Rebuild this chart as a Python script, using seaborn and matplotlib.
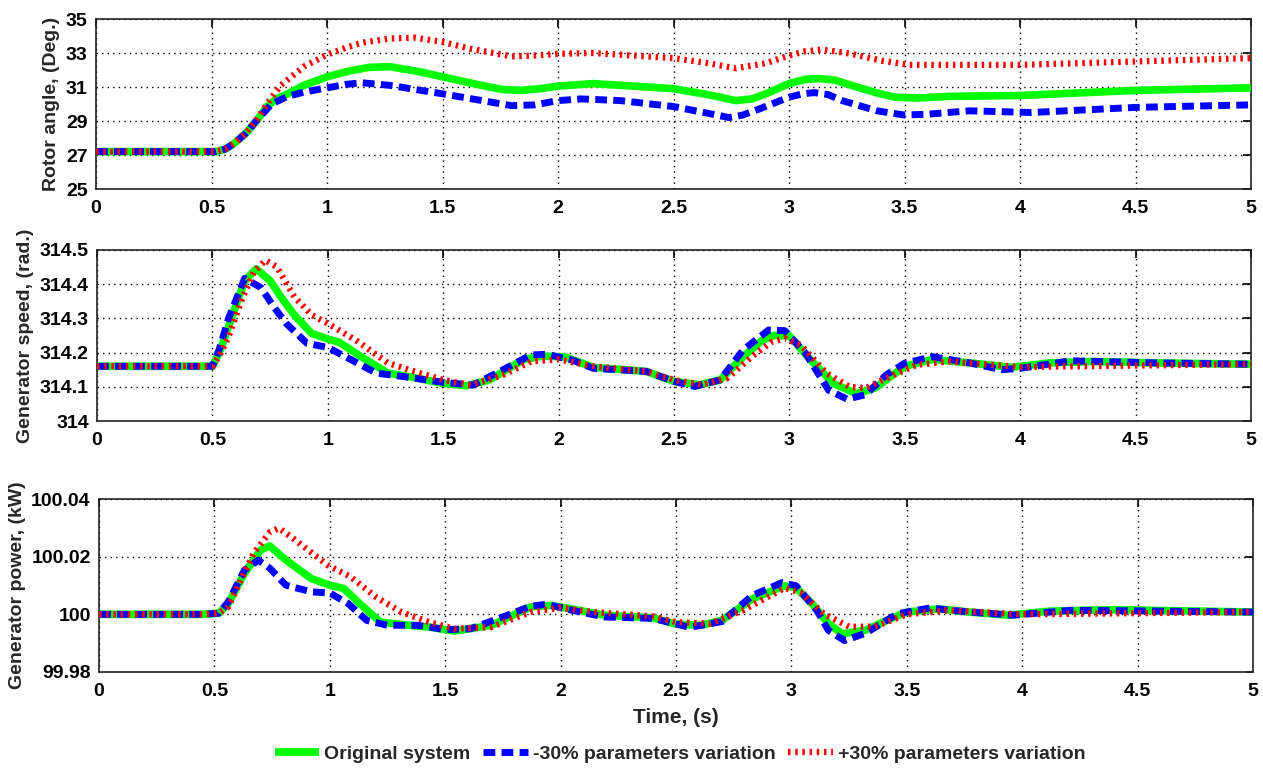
import numpy as np
import pandas as pd
import matplotlib
matplotlib.use("Agg")
import matplotlib.pyplot as plt
from matplotlib import font_manager
from matplotlib.ticker import FuncFormatter
import seaborn as sns

# ---------------- data ----------------
series_names = ["Original system", "-30% parameters variation", "+30% parameters variation"]

# Rotor angle (Deg.)
angle_t_orig = [0, 0.52, 0.56, 0.6, 0.65, 0.7, 0.74, 0.78, 0.83, 0.9, 1.0, 1.1, 1.18, 1.27, 1.4, 1.5, 1.65, 1.76, 1.84, 1.92, 2.0, 2.15, 2.27, 2.5, 2.65, 2.77, 2.84, 2.9, 3.0, 3.07, 3.13, 3.2, 3.27, 3.38, 3.46, 3.55, 3.7, 4.0, 4.5, 5.0]
angle_v_orig = [27.2, 27.2, 27.35, 27.7, 28.3, 29.1, 29.85, 30.3, 30.6, 31.1, 31.6, 31.95, 32.15, 32.2, 31.9, 31.6, 31.15, 30.85, 30.8, 30.9, 31.05, 31.2, 31.1, 30.9, 30.55, 30.2, 30.3, 30.6, 31.2, 31.45, 31.5, 31.4, 31.1, 30.65, 30.4, 30.35, 30.45, 30.5, 30.8, 30.95]
angle_t_minus = [0, 0.52, 0.56, 0.6, 0.65, 0.7, 0.76, 0.83, 0.9, 1.0, 1.08, 1.15, 1.27, 1.5, 1.65, 1.8, 1.9, 2.0, 2.1, 2.27, 2.5, 2.65, 2.74, 2.8, 2.87, 3.0, 3.06, 3.11, 3.17, 3.23, 3.38, 3.5, 3.6, 3.78, 4.05, 4.5, 5.0]
angle_v_minus = [27.2, 27.2, 27.35, 27.7, 28.3, 29.1, 30.0, 30.45, 30.7, 30.95, 31.15, 31.25, 31.1, 30.6, 30.25, 29.9, 29.95, 30.2, 30.3, 30.2, 29.85, 29.45, 29.2, 29.35, 29.7, 30.4, 30.6, 30.67, 30.55, 30.2, 29.6, 29.35, 29.4, 29.6, 29.5, 29.8, 29.95]
angle_t_plus = [0, 0.52, 0.56, 0.6, 0.65, 0.7, 0.74, 0.8, 0.9, 1.0, 1.08, 1.15, 1.27, 1.38, 1.5, 1.62, 1.8, 1.9, 2.0, 2.15, 2.27, 2.5, 2.65, 2.77, 2.9, 3.0, 3.07, 3.14, 3.2, 3.27, 3.4, 3.52, 4.0, 4.5, 5.0]
angle_v_plus = [27.2, 27.2, 27.35, 27.7, 28.3, 29.15, 30.0, 31.1, 32.2, 32.9, 33.3, 33.6, 33.85, 33.9, 33.65, 33.25, 32.8, 32.85, 32.95, 33.0, 32.9, 32.7, 32.4, 32.1, 32.4, 32.85, 33.1, 33.2, 33.1, 32.95, 32.55, 32.3, 32.3, 32.5, 32.7]

# Generator speed (rad.)
speed_t_orig = [0, 0.5, 0.53, 0.57, 0.64, 0.69, 0.75, 0.8, 0.855, 0.93, 1.0, 1.05, 1.14, 1.26, 1.35, 1.5, 1.6, 1.7, 1.85, 1.93, 2.03, 2.15, 2.38, 2.5, 2.61, 2.7, 2.8, 2.88, 2.93, 3.0, 3.09, 3.19, 3.29, 3.37, 3.5, 3.62, 3.78, 3.96, 4.13, 4.31, 4.58, 5.0]
speed_v_orig = [314.16, 314.16, 314.2, 314.276, 314.41, 314.445, 314.41, 314.36, 314.31, 314.256, 314.24, 314.23, 314.19, 314.14, 314.13, 314.11, 314.103, 314.12, 314.18, 314.19, 314.187, 314.157, 314.145, 314.116, 314.106, 314.12, 314.188, 314.235, 314.25, 314.249, 314.18, 314.11, 314.08, 314.096, 314.16, 314.18, 314.17, 314.157, 314.17, 314.174, 314.17, 314.166]
speed_t_minus = [0, 0.5, 0.53, 0.57, 0.64, 0.71, 0.77, 0.82, 0.91, 1.0, 1.085, 1.21, 1.35, 1.5, 1.63, 1.76, 1.88, 1.95, 2.06, 2.15, 2.38, 2.5, 2.59, 2.7, 2.8, 2.91, 2.98, 3.07, 3.17, 3.25, 3.33, 3.42, 3.5, 3.62, 3.78, 3.92, 4.0, 4.22, 4.58, 5.0]
speed_v_minus = [314.16, 314.16, 314.21, 314.3, 314.417, 314.39, 314.33, 314.285, 314.227, 314.215, 314.185, 314.14, 314.128, 314.113, 314.105, 314.15, 314.193, 314.195, 314.178, 314.154, 314.145, 314.116, 314.101, 314.12, 314.208, 314.266, 314.264, 314.198, 314.09, 314.064, 314.077, 314.135, 314.169, 314.188, 314.17, 314.15, 314.154, 314.176, 314.17, 314.166]
speed_t_plus = [0, 0.5, 0.53, 0.57, 0.63, 0.68, 0.73, 0.78, 0.855, 0.93, 1.0, 1.12, 1.26, 1.35, 1.5, 1.62, 1.76, 1.88, 2.0, 2.15, 2.38, 2.5, 2.62, 2.73, 2.84, 2.92, 2.98, 3.05, 3.16, 3.26, 3.33, 3.42, 3.55, 3.69, 4.0, 5.0]
speed_v_plus = [314.16, 314.16, 314.19, 314.247, 314.36, 314.436, 314.47, 314.45, 314.363, 314.31, 314.285, 314.237, 314.17, 314.15, 314.12, 314.105, 314.135, 314.174, 314.18, 314.16, 314.145, 314.12, 314.106, 314.125, 314.19, 314.23, 314.242, 314.222, 314.14, 314.1, 314.096, 314.125, 314.164, 314.174, 314.158, 314.166]

# Generator power (kW)
power_t_orig = [0, 0.45, 0.52, 0.56, 0.63, 0.70, 0.74, 0.81, 0.92, 1.0, 1.06, 1.13, 1.22, 1.34, 1.43, 1.54, 1.7, 1.87, 1.96, 2.08, 2.19, 2.4, 2.5, 2.61, 2.7, 2.83, 2.97, 3.02, 3.09, 3.16, 3.22, 3.32, 3.43, 3.5, 3.64, 3.77, 3.94, 4.12, 4.39, 5.0]
power_v_orig = [100.0, 100.0, 100.0004, 100.0037, 100.0142, 100.0223, 100.0237, 100.0188, 100.0124, 100.0101, 100.009, 100.0037, 99.9973, 99.9962, 99.9956, 99.9942, 99.9962, 100.0026, 100.0031, 100.0014, 99.9997, 99.9988, 99.9966, 99.9962, 99.998, 100.0053, 100.0099, 100.0093, 100.0036, 99.9968, 99.9932, 99.9945, 99.9985, 100.0008, 100.0019, 100.0008, 99.9997, 100.0011, 100.0016, 100.0008]
power_t_minus = [0, 0.45, 0.52, 0.56, 0.63, 0.69, 0.74, 0.81, 0.92, 1.0, 1.08, 1.16, 1.25, 1.38, 1.5, 1.61, 1.75, 1.87, 1.94, 2.05, 2.19, 2.4, 2.56, 2.7, 2.83, 2.96, 3.02, 3.11, 3.16, 3.23, 3.32, 3.46, 3.6, 3.77, 3.96, 4.21, 5.0]
power_v_minus = [100.0, 100.0, 100.0004, 100.0043, 100.0153, 100.0188, 100.016, 100.0101, 100.0078, 100.0074, 100.0037, 99.9979, 99.9962, 99.9962, 99.9947, 99.995, 99.9991, 100.0028, 100.0035, 100.0014, 99.9991, 99.9986, 99.9955, 99.9975, 100.0065, 100.011, 100.0099, 100.0014, 99.9945, 99.9909, 99.9934, 100.0002, 100.0022, 100.0008, 99.9997, 100.0014, 100.0008]
power_t_plus = [0, 0.45, 0.52, 0.56, 0.67, 0.74, 0.78, 0.85, 0.99, 1.09, 1.2, 1.31, 1.43, 1.54, 1.7, 1.87, 2.0, 2.14, 2.4, 2.5, 2.65, 2.79, 2.97, 3.04, 3.14, 3.25, 3.36, 3.5, 3.68, 4.0, 5.0]
power_v_plus = [100.0, 100.0, 100.0004, 100.0026, 100.0212, 100.0285, 100.0299, 100.0258, 100.0171, 100.013, 100.006, 100.0008, 99.9973, 99.995, 99.9956, 100.0008, 100.0023, 100.0008, 99.9993, 99.9973, 99.9968, 100.0014, 100.0091, 100.0076, 100.0002, 99.9957, 99.9957, 100.0, 100.0014, 100.0, 100.0008]

x_ticks = [0, 0.5, 1, 1.5, 2, 2.5, 3, 3.5, 4, 4.5, 5]
angle_ticks = [25, 27, 29, 31, 33, 35]
speed_ticks = [314, 314.1, 314.2, 314.3, 314.4, 314.5]
power_ticks = [99.98, 100, 100.02, 100.04]
y_labels = ["Rotor angle, (Deg.)", "Generator speed, (rad.)", "Generator power, (kW)"]

# ---------------- style ----------------
sns.set_theme(style="white")
names = {f.name for f in font_manager.fontManager.ttflist}
fam = "Liberation Sans Narrow" if "Liberation Sans Narrow" in names else "Liberation Sans"
plt.rcParams["font.family"] = [fam, "DejaVu Sans"]
plt.rcParams["font.weight"] = "bold"

colors = ["#00ff00", "#0000ff", "#ff0000"]
styles = [
    dict(lw=5.5, linestyle="-"),
    dict(lw=5.0, linestyle=(0, (1.7, 0.9))),
    dict(lw=4.5, linestyle=(0, (0.4, 0.75))),
]

fig = plt.figure(figsize=(12.63, 7.70), dpi=100)
W, H = 1263, 770
rects = [(96, 19, 1251, 189), (97, 250, 1251, 421), (99, 499, 1253, 672)]
axes = []
for (l, t, r, b) in rects:
    axes.append(fig.add_axes([l / W, 1 - b / H, (r - l) / W, (b - t) / H]))

panels = [
    ([angle_t_orig, angle_t_minus, angle_t_plus], [angle_v_orig, angle_v_minus, angle_v_plus], angle_ticks, (25, 35), lambda v, p: f"{v:g}"),
    ([speed_t_orig, speed_t_minus, speed_t_plus], [speed_v_orig, speed_v_minus, speed_v_plus], speed_ticks, (314, 314.5), lambda v, p: f"{v:.1f}".rstrip("0").rstrip(".")),
    ([power_t_orig, power_t_minus, power_t_plus], [power_v_orig, power_v_minus, power_v_plus], power_ticks, (99.98, 100.04), lambda v, p: f"{v:.2f}".rstrip("0").rstrip(".")),
]

handles = []
for i, (ax, (ts, vs, yt, ylim, fmt)) in enumerate(zip(axes, panels)):
    for j in range(3):
        df = pd.DataFrame({"t": ts[j], "v": vs[j]})
        sns.lineplot(data=df, x="t", y="v", ax=ax, color=colors[j], label=series_names[j],
                     solid_capstyle="butt", dash_capstyle="butt", solid_joinstyle="round",
                     zorder=3 + j, **styles[j])
    if i == 0:
        handles, labels = ax.get_legend_handles_labels()
    if ax.get_legend() is not None:
        ax.get_legend().remove()
    ax.set_xlim(0, 5)
    ax.set_ylim(*ylim)
    ax.set_xticks(x_ticks)
    ax.xaxis.set_major_formatter(FuncFormatter(lambda v, p: f"{v:g}"))
    ax.set_yticks(yt)
    ax.yaxis.set_major_formatter(FuncFormatter(fmt))
    ax.grid(True, linestyle=(0, (1, 3)), color="black", linewidth=1.0)
    ax.tick_params(direction="in", top=True, right=True, length=6, width=1.2,
                   labelsize=14, colors="black")
    ax.tick_params(axis="x", pad=8)
    ax.tick_params(axis="y", pad=6)
    for lab in ax.get_xticklabels() + ax.get_yticklabels():
        lab.set_fontweight("bold")
    for s in ax.spines.values():
        s.set_color("#222222")
        s.set_linewidth(1.2)
    ax.set_ylabel(y_labels[i], fontsize=14, fontweight="bold", labelpad=4)
    ax.set_xlabel("Time, (s)" if i == 2 else "", fontsize=15, fontweight="bold", labelpad=6)
    ax.set_facecolor("white")

fig.legend(handles, series_names, loc="center", bbox_to_anchor=(680 / W, 1 - 754 / H), ncol=3,
           frameon=False, handlelength=2.3, columnspacing=0.65, handletextpad=0.25,
           prop={"weight": "bold", "size": 14})

fig.savefig("out.png", dpi=100, facecolor="white")
